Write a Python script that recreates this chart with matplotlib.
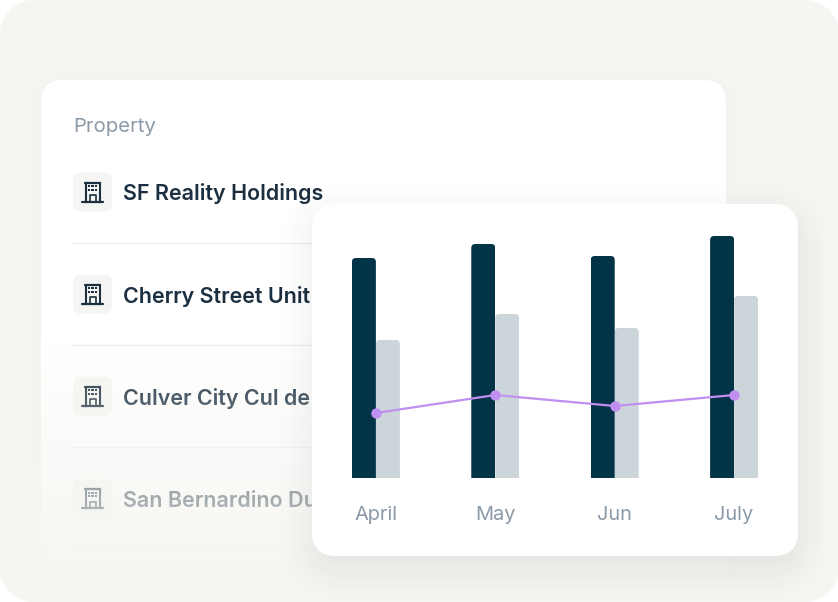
import numpy as np
import matplotlib
matplotlib.use("Agg")
import matplotlib.pyplot as plt
from matplotlib.patches import FancyBboxPatch, Rectangle

plt.rcParams['font.family'] = ['Inter', 'DejaVu Sans']

months = ["April", "May", "Jun", "July"]
dark_values = [220, 234, 222, 242]
light_values = [138, 164, 150, 182]
line_values = [65, 83, 72, 83]
properties = ["SF Reality Holdings", "Cherry Street Unit", "Culver City Cul de",
              "San Bernardino Du", ""]
header = "Property"

W, H = 838, 602
BG = np.array([0xF5, 0xF5, 0xF1]) / 255
DARK, LIGHT, PURPLE = "#023346", "#CCD6DA", "#C08FF0"
TICK = "#8B9AA8"

fig = plt.figure(figsize=(W / 100, H / 100), dpi=100, facecolor="white")
bg = fig.add_axes([0, 0, 1, 1], facecolor=BG)
bg.set_xlim(0, W); bg.set_ylim(H, 0)
bg.set_xticks([]); bg.set_yticks([])
for s in bg.spines.values():
    s.set_visible(False)

yy, xx = np.mgrid[0:H, 0:W] + 0.5


def rr_sdf(x0, y0, x1, y1, r):
    cx, cy = (x0 + x1) / 2, (y0 + y1) / 2
    qx = np.abs(xx - cx) - (x1 - x0) / 2 + r
    qy = np.abs(yy - cy) - (y1 - y0) / 2 + r
    return np.hypot(np.maximum(qx, 0), np.maximum(qy, 0)) + np.minimum(np.maximum(qx, qy), 0) - r


def layer(alpha, color, z):
    img = np.zeros((H, W, 4))
    img[..., :3] = color
    img[..., 3] = alpha
    bg.imshow(img, extent=(0, W, H, 0), zorder=z, aspect="auto", interpolation="nearest")


def shadow(box, r, dy, blur, strength, color, z):
    d = rr_sdf(box[0], box[1] + dy, box[2], box[3] + dy, r)
    layer(strength * (1 - np.clip((d + blur) / (2 * blur), 0, 1)) ** 1.6, color, z)


def card(box, r, z):
    x0, y0, x1, y1 = box
    bg.add_patch(FancyBboxPatch((x0 + r, y0 + r), x1 - x0 - 2 * r, y1 - y0 - 2 * r,
                                boxstyle=f"round,pad={r},rounding_size={r}",
                                fc="white", ec="none", zorder=z))


def icon(cx, cy, color, z):
    kw = dict(zorder=z)
    bg.add_patch(FancyBboxPatch((cx - 12.5, cy - 12.5), 25, 25,
                                boxstyle="round,pad=7,rounding_size=8",
                                fc="#F5F5F3", ec="none", **kw))
    bg.plot([cx - 10.5, cx + 10.5], [cy + 9.5, cy + 9.5], color=color, lw=1.6,
            solid_capstyle="round", **kw)
    bg.plot([cx - 7.5, cx + 7.5], [cy - 9.5, cy - 9.5], color=color, lw=1.6,
            solid_capstyle="round", **kw)
    bg.plot([cx - 7, cx - 7], [cy - 9.5, cy + 9.5], color=color, lw=1.5, **kw)
    bg.plot([cx + 7, cx + 7], [cy - 9.5, cy + 9.5], color=color, lw=1.5, **kw)
    for row in (-6, -2.5):
        for col in (-3.4, 0, 3.4):
            bg.add_patch(Rectangle((cx + col - 1.1, cy + row - 1), 2.2, 2,
                                   fc=color, ec="none", **kw))
    bg.plot([cx - 3, cx - 3, cx + 3, cx + 3], [cy + 9, cy + 3, cy + 3, cy + 9],
            color=color, lw=1.2, **kw)


# property card
card_box = (41, 80, 726, 640)
shadow(card_box, 22, 2, 26, 0.035, (0.25, 0.28, 0.25), 1)
card(card_box, 22, 2)
bg.text(73, 127, header, fontsize=14.6, color=TICK, va="center", ha="left", zorder=3)
for i, name in enumerate(properties):
    cy = 192 + i * 102.2
    icon(92.5, cy, "#1B2F40", 3)
    bg.text(123, cy + 2, name, fontsize=15.45, fontweight=600, color="#1B2F40",
            va="center", ha="left", zorder=3)
    bg.plot([73, 726], [cy + 50.5] * 2, color="#EFF1F1", lw=1, zorder=3)

# fade of the property card into the page
layer(np.clip((yy - 340) / 250, 0, 1), BG, 4)

# chart card
chart_box = (312, 204, 798, 556)
shadow(chart_box, 24, 12, 40, 0.15, (0.15, 0.17, 0.17), 5)
card(chart_box, 24, 6)

# white outside the page's rounded corners
layer(np.clip(rr_sdf(0, 0, W, H, 34) + 0.5, 0, 1), (1, 1, 1), 7)

# chart
left, right, top, base = 352, 758, 236, 478
ax = fig.add_axes([left / W, 1 - base / H, (right - left) / W, (base - top) / H],
                  facecolor="none", zorder=5)
x = np.arange(len(months))
bw = 24 / 119.33
ax.set_xlim(-0.2, 3.2)
ax.set_ylim(0, 242)
dark_bars = ax.bar(x - bw / 2, dark_values, bw, color=DARK, zorder=2)
light_bars = ax.bar(x + bw / 2, light_values, bw, color=LIGHT, zorder=2)
rx = 4 / 119.33
for b in list(dark_bars) + list(light_bars):
    clip = FancyBboxPatch((b.get_x() + rx, -10), b.get_width() - 2 * rx, b.get_height() + 6,
                          boxstyle=f"round,pad={rx},rounding_size={rx}",
                          mutation_aspect=4 / rx, transform=ax.transData)
    b.set_clip_path(clip)
ax.plot(x, line_values, color=PURPLE, lw=1.6, marker="o", ms=7.5, mec="none", zorder=3)
for s in ax.spines.values():
    s.set_visible(False)
ax.set_yticks([])
ax.set_xticks(x, months)
ax.tick_params(axis="x", length=0, pad=20.5, labelsize=14.4, labelcolor=TICK)

fig.savefig("out.png", dpi=100, facecolor="white")
